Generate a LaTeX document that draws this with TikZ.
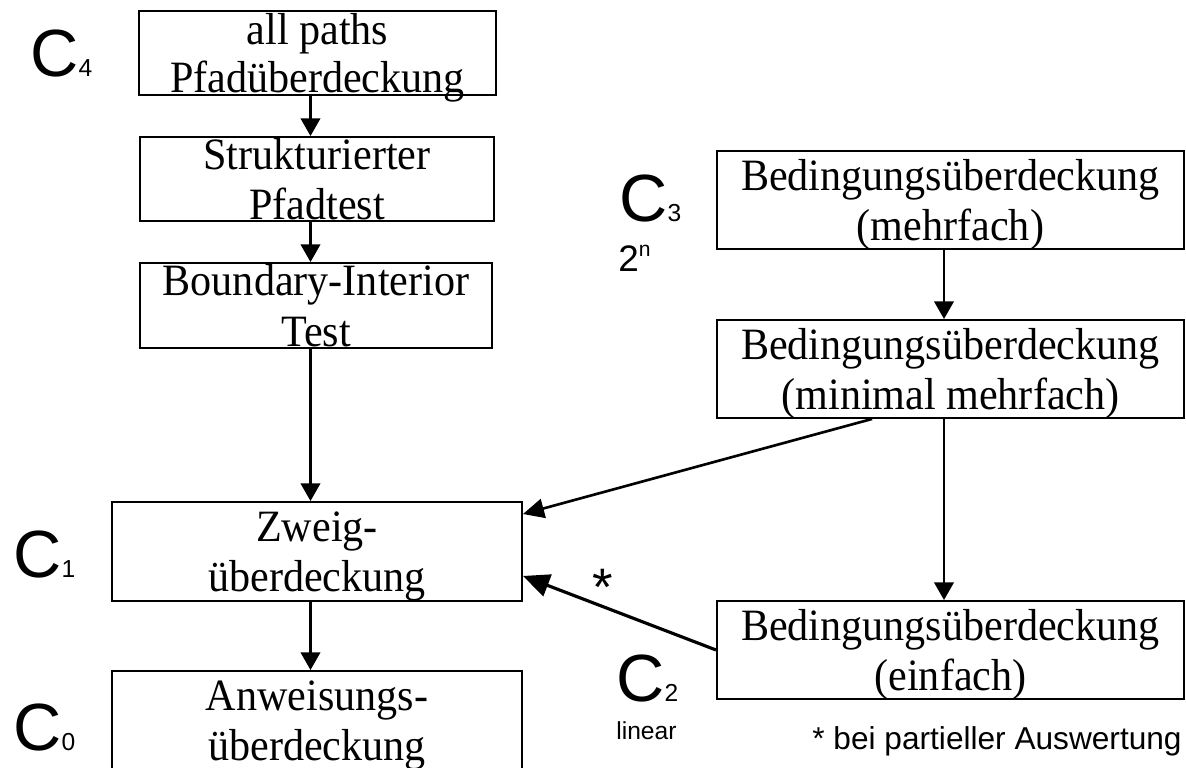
\documentclass[tikz,border=0pt]{standalone}
\usepackage{fontspec}
\setmainfont{Liberation Serif}[FakeStretch=0.94]
\newfontfamily\labelfont{Liberation Sans}
\usetikzlibrary{arrows.meta, calc}

\begin{document}
\begin{tikzpicture}[
    box/.style={draw, line width=1.1pt, inner sep=0pt, align=center, text depth=0pt,
        font=\fontsize{25.5}{28.5}\selectfont},
    arr/.style={-{Triangle[length=10pt, width=11pt]}, line width=1.5pt},
    clabel/.style={anchor=base west, inner sep=0pt, font=\labelfont}
]
    \useasboundingbox (0,0) rectangle (23.72,15.36);
    \clip (0,0) rectangle (23.72,15.36);

    % Path coverage column
    \node[box, minimum width=7.14cm, minimum height=1.68cm, font=\fontsize{25.5}{26.8}\selectfont]
        (paths) at (6.35,14.30) {all paths\\Pfadüberdeckung};
    \node[box, minimum width=7.08cm, minimum height=1.68cm] (struct) at (6.34,11.78) {Strukturierter\\Pfadtest};
    \node[box, minimum width=7.04cm, minimum height=1.70cm] (bi) at (6.32,9.25) {Boundary-Interior\\Test};
    \node[box, minimum width=8.20cm, minimum height=1.98cm] (zweig) at (6.34,4.33) {Zweig-\\überdeckung};
    \node[box, minimum width=8.20cm, minimum height=1.98cm] (anw) at (6.34,0.95) {Anweisungs-\\überdeckung};

    % Condition coverage column
    \node[box, minimum width=9.34cm, minimum height=1.96cm] (mehr) at (19.01,11.36) {Bedingungsüberdeckung\\(mehrfach)};
    \node[box, minimum width=9.34cm, minimum height=1.96cm] (minimal) at (19.01,7.98) {Bedingungsüberdeckung\\(minimal mehrfach)};
    \node[box, minimum width=9.34cm, minimum height=1.96cm] (einfach) at (19.01,2.36) {Bedingungsüberdeckung\\(einfach)};

    % Arrows
    \coordinate (spine) at (6.21,0);
    \coordinate (rspine) at (18.88,0);
    \draw[arr] (paths.south -| spine) -- (struct.north -| spine);
    \draw[arr] (struct.south -| spine) -- (bi.north -| spine);
    \draw[arr] (bi.south -| spine) -- (zweig.north -| spine);
    \draw[arr] (zweig.south -| spine) -- (anw.north -| spine);
    \draw[arr] (mehr.south -| rspine) -- (minimal.north -| rspine);
    \draw[arr] (minimal.south -| rspine) -- (einfach.north -| rspine);
    \draw[arr, -{Triangle[length=12pt, width=11pt]}] ($(minimal.south west)+(3.12,0)$) -- ($(zweig.north east)+(0,-0.26)$);
    \draw[arr, line width=1.8pt, -{Triangle[length=15pt, width=13pt]}] (einfach.west) -- ($(zweig.south east)+(0,0.52)$);
    \node[inner sep=0pt, font=\labelfont\fontsize{30}{30}\selectfont] (star) at (12.06,3.62) {*};

    % Coverage levels
    \node[clabel] (c4) at (0.60,13.82) {\fontsize{38}{38}\selectfont C\fontsize{14}{14}\selectfont 4};
    \node[clabel] (c3) at (12.38,10.92) {\fontsize{38}{38}\selectfont C\fontsize{14}{14}\selectfont 3};
    \node[clabel] (exp) at (12.36,9.92) {\fontsize{21}{21}\selectfont 2\raisebox{0.42em}{\fontsize{12}{12}\selectfont n}};
    \node[clabel] (c2) at (12.32,1.32) {\fontsize{38}{38}\selectfont C\fontsize{14}{14}\selectfont 2};
    \node[clabel] (lin) at (12.32,0.56) {\fontsize{14}{14}\selectfont linear};
    \node[clabel] (c1) at (0.26,3.80) {\fontsize{38}{38}\selectfont C\fontsize{14}{14}\selectfont 1};
    \node[clabel] (c0) at (0.26,0.34) {\fontsize{38}{38}\selectfont C\fontsize{14}{14}\selectfont 0};

    \node[clabel, anchor=base east, font=\labelfont\fontsize{18}{18}\selectfont] (note) at (23.64,0.36) {* bei partieller Auswertung};
\end{tikzpicture}
\end{document}
